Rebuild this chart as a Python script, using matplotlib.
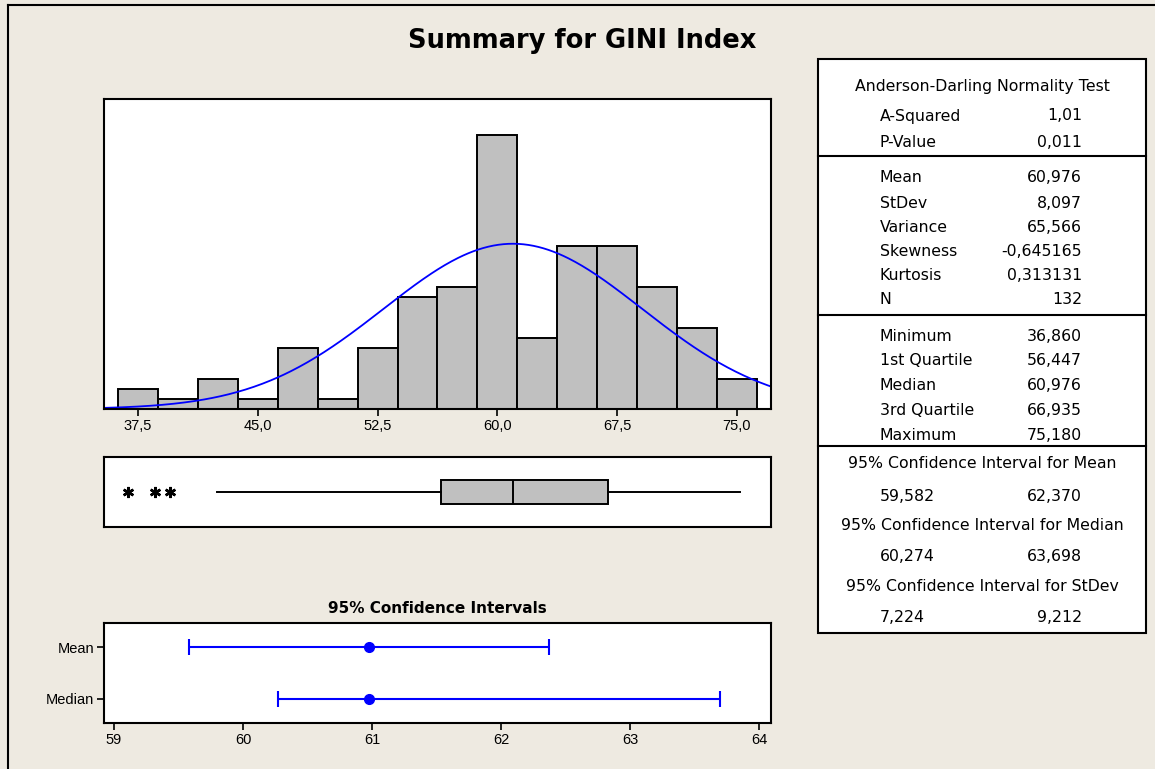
import numpy as np
import matplotlib.pyplot as plt
from matplotlib.lines import Line2D
from matplotlib.patches import Rectangle

# ── Data ───────────────────────────────────────────────────────────────────
bin_centers = [37.5, 40.0, 42.5, 45.0, 47.5, 50.0, 52.5, 55.0,
               57.5, 60.0, 62.5, 65.0, 67.5, 70.0, 72.5, 75.0]
counts = [2, 1, 3, 1, 6, 1, 6, 11, 12, 27, 7, 16, 16, 12, 8, 3]
bin_width = 2.5

hist_ticks = [37.5, 45.0, 52.5, 60.0, 67.5, 75.0]
hist_ticklabels = ["37,5", "45,0", "52,5", "60,0", "67,5", "75,0"]

mean, stdev, n = 60.976, 8.097, 132

box_q1, box_med, box_q3 = 56.447, 60.976, 66.935
whisker_lo, whisker_hi = 42.46, 75.18
outliers = [36.86, 38.55, 39.49]

ci_labels = ["Mean", "Median"]
ci_center = [60.976, 60.976]
ci_lower = [59.582, 60.274]
ci_upper = [62.370, 63.698]
ci_ticks = [59, 60, 61, 62, 63, 64]

ad_rows = [("A-Squared", "1,01"), ("P-Value", "0,011")]
moment_rows = [("Mean", "60,976"), ("StDev", "8,097"), ("Variance", "65,566"),
               ("Skewness", "-0,645165"), ("Kurtosis", "0,313131"), ("N", "132")]
quartile_rows = [("Minimum", "36,860"), ("1st Quartile", "56,447"),
                 ("Median", "60,976"), ("3rd Quartile", "66,935"),
                 ("Maximum", "75,180")]
ci_rows = [("95% Confidence Interval for Mean", "59,582", "62,370"),
           ("95% Confidence Interval for Median", "60,274", "63,698"),
           ("95% Confidence Interval for StDev", "7,224", "9,212")]

# ── Style ──────────────────────────────────────────────────────────────────
BG = "#EEEAE1"
BAR = "#C0C0C0"
BLUE = "#0000FF"
NARROW = ["Liberation Sans", "DejaVu Sans"]
W, H = 1155, 769

fig = plt.figure(figsize=(W / 100, H / 100), dpi=100, facecolor=BG)


def px_axes(x0, y0, x1, y1):
    # axes from pixel box (top-left origin)
    return fig.add_axes([x0 / W, 1 - y1 / H, (x1 - x0) / W, (y1 - y0) / H])


def style_spines(ax):
    for s in ax.spines.values():
        s.set_linewidth(1.5)
        s.set_color("black")


# page border (top + left only)
fig.add_artist(Line2D([8 / W, 8 / W], [0, 1 - 5 / H], color="black", lw=1.5))
fig.add_artist(Line2D([8 / W, 1], [1 - 5 / H, 1 - 5 / H], color="black", lw=1.5))

fig.text(582 / W, 1 - 41 / H, "Summary for GINI Index", ha="center", va="center",
         fontsize=18.5, fontweight="bold")

xlim_hist = (35.33, 77.15)

# 1. Histogram with fitted normal
ax1 = px_axes(103.5, 99, 771, 409)
ax1.bar(bin_centers, counts, width=bin_width, color=BAR, edgecolor="black", lw=1.4)
xs = np.linspace(*xlim_hist, 400)
ys = n * bin_width * np.exp(-0.5 * ((xs - mean) / stdev) ** 2) / (stdev * np.sqrt(2 * np.pi))
ax1.plot(xs, ys, color=BLUE, lw=1.3)
ax1.set_xlim(xlim_hist)
ax1.set_ylim(0, 30.5)
ax1.set_yticks([])
ax1.set_xticks(hist_ticks)
ax1.set_xticklabels(hist_ticklabels, family=NARROW, fontsize=10.5)
ax1.tick_params(axis="x", direction="out", length=5, width=1.2, pad=2)
style_spines(ax1)

# 2. Boxplot
ax2 = px_axes(103.5, 457, 771, 527)
stats = [dict(med=box_med, q1=box_q1, q3=box_q3, whislo=whisker_lo,
              whishi=whisker_hi, fliers=outliers)]
ax2.bxp(stats, positions=[1], widths=0.34, orientation="horizontal",
        patch_artist=True, showcaps=False,
        boxprops=dict(facecolor=BAR, edgecolor="black", lw=1.4),
        medianprops=dict(color="black", lw=1.4),
        whiskerprops=dict(color="black", lw=1.4),
        flierprops=dict(marker=(6, 2, 0), markersize=8, markeredgecolor="black",
                        markeredgewidth=1.8, linestyle="none"))
ax2.set_xlim(xlim_hist)
ax2.set_ylim(0.5, 1.5)
ax2.set_xticks([])
ax2.set_yticks([])
style_spines(ax2)

# 3. Confidence intervals
ax3 = px_axes(104, 623, 771, 723)
ypos = [1, 0]
for i in range(len(ci_labels)):
    ax3.errorbar(ci_center[i], ypos[i],
                 xerr=[[ci_center[i] - ci_lower[i]], [ci_upper[i] - ci_center[i]]],
                 fmt="o", color=BLUE, ms=7, lw=1.5, capsize=5.5, capthick=1.5)
ax3.set_xlim(58.922, 64.093)
ax3.set_ylim(-0.47, 1.475)
ax3.set_yticks(ypos)
ax3.set_yticklabels(ci_labels, family=NARROW, fontsize=10.5)
ax3.set_xticks(ci_ticks)
ax3.set_xticklabels([str(t) for t in ci_ticks], family=NARROW, fontsize=10.5)
ax3.tick_params(direction="out", length=5, width=1.2, pad=2)
ax3.set_title("95% Confidence Intervals", fontsize=11, fontweight="bold", pad=7)
style_spines(ax3)

# 4. Summary table
ax4 = px_axes(818, 59, 1146, 633)
ax4.set_xlim(818, 1146)
ax4.set_ylim(633, 59)
ax4.axis("off")
ax4.add_patch(Rectangle((818, 59), 328, 574, facecolor="white", edgecolor="black",
                        lw=1.5, clip_on=False))
for yd in [156, 314.5, 446]:
    ax4.plot([818, 1146], [yd, yd], color="black", lw=1.5, clip_on=False)

FS = 11.3
LX, RX, CX = 880, 1082, 982
ax4.text(CX, 86, "Anderson-Darling Normality Test", ha="center", va="center", fontsize=FS)
row_y = [116, 142.5]
for (lab, val), y in zip(ad_rows, row_y):
    ax4.text(LX, y, lab, ha="left", va="center", fontsize=FS)
    ax4.text(RX, y, val, ha="right", va="center", fontsize=FS)
row_y = [178, 203, 227, 251.5, 276, 300]
for (lab, val), y in zip(moment_rows, row_y):
    ax4.text(LX, y, lab, ha="left", va="center", fontsize=FS)
    ax4.text(RX, y, val, ha="right", va="center", fontsize=FS)
row_y = [336.5, 360.5, 385, 410.5, 435]
for (lab, val), y in zip(quartile_rows, row_y):
    ax4.text(LX, y, lab, ha="left", va="center", fontsize=FS)
    ax4.text(RX, y, val, ha="right", va="center", fontsize=FS)
row_y = [(463.5, 496.5), (526, 556.5), (586.5, 618)]
for (title, lo, hi), (yt, yv) in zip(ci_rows, row_y):
    ax4.text(CX, yt, title, ha="center", va="center", fontsize=FS)
    ax4.text(LX, yv, lo, ha="left", va="center", fontsize=FS)
    ax4.text(RX, yv, hi, ha="right", va="center", fontsize=FS)

plt.savefig("out.png", dpi=100, facecolor=BG)
